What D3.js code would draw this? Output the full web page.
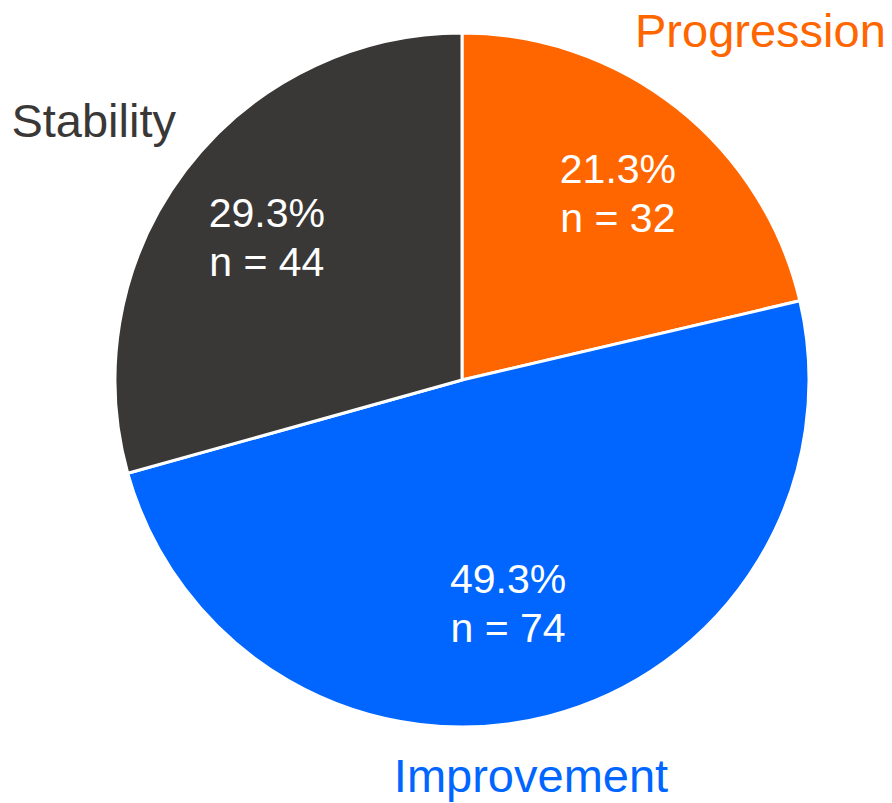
<!DOCTYPE html>
<html>
<head>
<meta charset="utf-8">
<script src="https://cdn.jsdelivr.net/npm/d3@7"></script>
<style>
  html, body { margin: 0; padding: 0; background: #fff; }
  svg { display: block; font-family: "Liberation Sans", Arial, sans-serif; }
</style>
</head>
<body>
<svg id="chart" width="892" height="803"></svg>
<script>
// Outcome groups, counts and colours
const categories = ["Progression", "Improvement", "Stability"];
const counts = [32, 74, 44];
const percentLabels = ["21.3%", "49.3%", "29.3%"];
const colors = ["#FF6600", "#0066FF", "#3A3836"];

const svg = d3.select("#chart");
const cx = 462, cy = 380, radius = 347;
const g = svg.append("g").attr("transform", `translate(${cx},${cy})`);

const pie = d3.pie().sort(null).value(d => d)(counts);
const arc = d3.arc().innerRadius(0).outerRadius(radius);

g.selectAll("path.slice")
  .data(pie)
  .join("path")
  .attr("class", "slice")
  .attr("d", arc)
  .attr("fill", (d, i) => colors[i])
  .attr("stroke", "#fff")
  .attr("stroke-width", 3)
  .attr("stroke-linejoin", "round");

// Inner label placement: distance from centre and a small angular nudge per slice
const labelRadius = [251, 218, 248];
const labelNudge = [0, 2.2, 0.9]; // degrees
const labelPos = (d, i) => {
  const a = (d.startAngle + d.endAngle) / 2 + labelNudge[i] * Math.PI / 180;
  return [labelRadius[i] * Math.sin(a), -labelRadius[i] * Math.cos(a)];
};

// Percentage and count inside each slice
const inner = g.selectAll("text.inner")
  .data(pie)
  .join("text")
  .attr("class", "inner")
  .attr("transform", (d, i) => `translate(${labelPos(d, i)})`)
  .attr("text-anchor", "middle")
  .attr("fill", "#fff")
  .attr("font-size", 41);
inner.append("tspan").attr("x", 0).attr("dy", 0).text((d, i) => percentLabels[i]);
inner.append("tspan").attr("x", 0).attr("dy", "1.2em").text((d, i) => `n = ${counts[i]}`);

// Category names outside the pie
const outer = [
  { name: categories[0], x: 635, y: 47, anchor: "start" },
  { name: categories[1], x: 531, y: 792, anchor: "middle" },
  { name: categories[2], x: 176, y: 137, anchor: "end" }
];
svg.selectAll("text.outer")
  .data(outer)
  .join("text")
  .attr("class", "outer")
  .attr("x", d => d.x)
  .attr("y", d => d.y)
  .attr("text-anchor", d => d.anchor)
  .attr("font-size", 47)
  .attr("fill", (d, i) => colors[i])
  .text(d => d.name);
</script>
</body>
</html>
